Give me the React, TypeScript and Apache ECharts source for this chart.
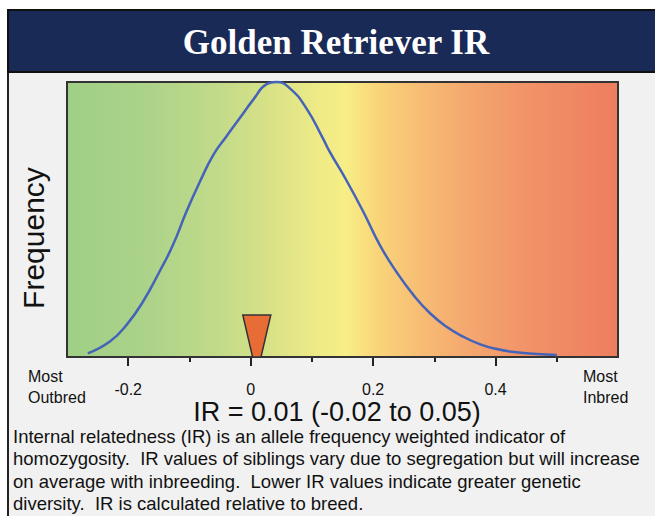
import React, { useEffect, useRef } from "react";
import * as echarts from "echarts";

// ---- data ----
const titleText = "Golden Retriever IR";
const curveX = [-0.266, -0.23, -0.203, -0.176, -0.149, -0.127, -0.105, -0.083, -0.061, -0.04, -0.018, 0.004, 0.026, 0.042, 0.064, 0.091, 0.118, 0.129, 0.157, 0.184, 0.211, 0.238, 0.266, 0.293, 0.32, 0.347, 0.375, 0.402, 0.434, 0.467, 0.5];
const curveY = [1.3, 5.6, 11.6, 20.1, 31.0, 40.7, 52.8, 63.7, 73.5, 80.1, 86.8, 93.5, 99.2, 100, 97.7, 90.4, 79.5, 74.7, 64.0, 52.8, 40.7, 31.0, 22.5, 15.9, 11.0, 7.4, 4.6, 2.9, 1.7, 1.1, 0.7];
const majorTicks = [-0.2, 0, 0.2, 0.4];
const minorTicks = [-0.1, 0.1, 0.3, 0.5];
const xMin = -0.3;
const xMax = 0.6;
const irValue = 0.01;
const irLow = -0.02;
const irHigh = 0.05;
const leftLabel = ["Most", "Outbred"];
const rightLabel = ["Most", "Inbred"];
const yAxisName = "Frequency";
const descriptionLines = [
  "Internal relatedness (IR) is an allele frequency weighted indicator of",
  "homozygosity.  IR values of siblings vary due to segregation but will increase",
  "on average with inbreeding.  Lower IR values indicate greater genetic",
  "diversity.  IR is calculated relative to breed.",
];

const fmt = (v: number) => (v === 0 ? "0" : v.toFixed(2));

export default function App() {
  const ref = useRef<HTMLDivElement>(null);
  useEffect(() => {
    if (!ref.current) return;
    const chart = echarts.init(ref.current, null, { renderer: "svg" });
    const font = "'Liberation Sans', Arial, sans-serif";
    const baseAxis = {
      type: "value",
      min: xMin,
      max: xMax,
      position: "bottom",
      splitLine: { show: false },
    };
    const tickAxis = (values: number[], len: number, inside: boolean) => ({
      ...baseAxis,
      axisLine: { show: false },
      axisLabel: { show: false },
      axisTick: {
        show: true,
        inside,
        length: len,
        customValues: values,
        lineStyle: { color: "#222", width: 2 },
      },
    });
    const gradient = new echarts.graphic.LinearGradient(0, 0, 1, 0, [
      { offset: 0, color: "#9fcf86" },
      { offset: 0.15, color: "#acd389" },
      { offset: 0.28, color: "#c3db8a" },
      { offset: 0.37, color: "#d9e286" },
      { offset: 0.46, color: "#efeb87" },
      { offset: 0.505, color: "#f7ee86" },
      { offset: 0.56, color: "#f9d67a" },
      { offset: 0.64, color: "#f7bd74" },
      { offset: 0.73, color: "#f4a76e" },
      { offset: 0.84, color: "#f19268" },
      { offset: 1, color: "#ee7d5f" },
    ]);
    chart.setOption({
      animation: false,
      backgroundColor: "#ffffff",
      grid: {
        left: 67,
        top: 82,
        right: 37,
        bottom: 159,
        show: true,
        backgroundColor: gradient,
        borderColor: "#333",
        borderWidth: 2,
        z: 1,
      },
      xAxis: [
        {
          ...baseAxis,
          axisLine: { show: true, lineStyle: { color: "#222", width: 2 } },
          axisTick: {
            show: true,
            length: 9,
            customValues: majorTicks,
            lineStyle: { color: "#222", width: 2 },
          },
          axisLabel: {
            show: true,
            customValues: majorTicks,
            margin: 24,
            fontSize: 16,
            fontFamily: font,
            color: "#111",
            formatter: (v: number) => (Math.abs(v) < 1e-9 ? "0" : String(Math.round(v * 10) / 10)),
          },
        },
        tickAxis(majorTicks, 9, true),
        tickAxis(minorTicks, 5, false),
        tickAxis(minorTicks, 5, true),
      ],
      yAxis: {
        type: "value",
        min: 0,
        max: 100,
        axisLine: { show: false },
        axisTick: { show: false },
        axisLabel: { show: false },
        splitLine: { show: false },
      },
      series: [
        {
          type: "line",
          data: curveX.map((x, i) => [x, curveY[i]]),
          smooth: true,
          showSymbol: false,
          clip: false,
          lineStyle: { color: "#4563b8", width: 2.5 },
          z: 3,
        },
        {
          type: "custom",
          data: [[irValue]],
          z: 4,
          renderItem: (_params: any, api: any) => {
            const p = api.coord([api.value(0), 0]);
            const cx = p[0];
            const cy = p[1];
            return {
              type: "polygon",
              shape: {
                points: [
                  [cx - 14, cy - 42],
                  [cx + 14, cy - 42],
                  [cx + 4.2, cy],
                  [cx - 4.2, cy],
                ],
              },
              style: { fill: "#e86c36", stroke: "#333", lineWidth: 1.5 },
            };
          },
        },
      ],
      graphic: [
        {
          type: "rect",
          z: -10,
          shape: { x: 8, y: 10, width: 660, height: 520 },
          style: { fill: "#f1f1f1", stroke: "#222", lineWidth: 2 },
        },
        {
          type: "rect",
          z: -9,
          shape: { x: 8, y: 10, width: 660, height: 62 },
          style: { fill: "#1a2a56", stroke: "#111", lineWidth: 2 },
        },
        {
          type: "text",
          z: 10,
          x: 336,
          y: 42,
          style: {
            text: titleText,
            fill: "#ffffff",
            font: "bold 35px 'Liberation Serif', 'Times New Roman', serif",
            textAlign: "center",
            textVerticalAlign: "middle",
          },
        },
        {
          type: "text",
          z: 10,
          x: 33,
          y: 238,
          rotation: Math.PI / 2,
          style: {
            text: yAxisName,
            fill: "#111",
            font: `30px ${font}`,
            textAlign: "center",
            textVerticalAlign: "middle",
          },
        },
        {
          type: "text",
          z: 10,
          x: 28,
          y: 366,
          style: {
            text: leftLabel.join("\n"),
            fill: "#111",
            font: `16px ${font}`,
            lineHeight: 21,
            textAlign: "left",
          },
        },
        {
          type: "text",
          z: 10,
          x: 583,
          y: 366,
          style: {
            text: rightLabel.join("\n"),
            fill: "#111",
            font: `16px ${font}`,
            lineHeight: 21,
            textAlign: "left",
          },
        },
        {
          type: "text",
          z: 10,
          x: 337,
          y: 412,
          style: {
            text: `IR = ${fmt(irValue)} (${fmt(irLow)} to ${fmt(irHigh)})`,
            fill: "#111",
            font: `27px ${font}`,
            textAlign: "center",
            textVerticalAlign: "middle",
          },
        },
        {
          type: "text",
          z: 10,
          x: 13,
          y: 425,
          style: {
            text: descriptionLines.join("\n"),
            fill: "#111",
            font: `18.5px ${font}`,
            lineHeight: 22.5,
            textAlign: "left",
          },
        },
      ],
    });
    return () => chart.dispose();
  }, []);
  return (
    <div
      ref={ref}
      style={{ position: "fixed", left: 0, top: 0, width: 655, height: 516 }}
    />
  );
}
